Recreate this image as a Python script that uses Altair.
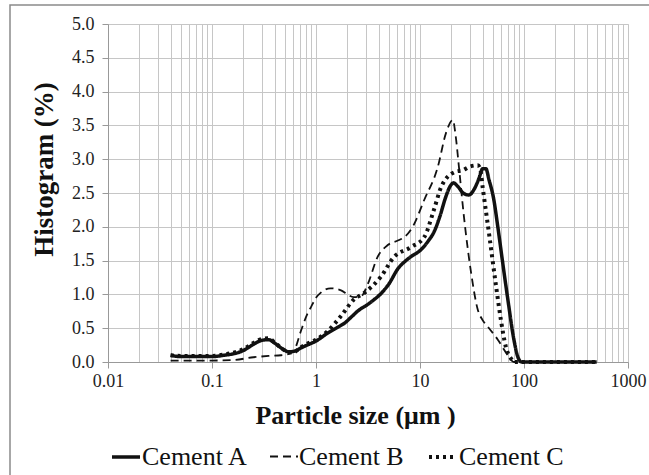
import altair as alt
import pandas as pd

# ---------------- data ----------------
a_size = [0.04, 0.05, 0.07, 0.1, 0.13, 0.17, 0.2, 0.25, 0.3, 0.35, 0.4, 0.47, 0.55, 0.62,
          0.72, 0.85, 1.0, 1.3, 1.6, 1.9, 2.2, 2.6, 3.0, 3.6, 4.2, 5.0, 6.2, 7.2, 8.2,
          10.2, 12, 13.6, 15.5, 17.5, 19.5, 21, 23, 26, 29.5, 33, 37, 40, 43, 46, 51,
          56, 62, 70, 80, 88, 95, 120, 200, 300, 500]
a_hist = [0.10, 0.08, 0.08, 0.08, 0.10, 0.13, 0.17, 0.26, 0.32, 0.33, 0.28, 0.20, 0.15, 0.16,
          0.21, 0.26, 0.31, 0.43, 0.51, 0.58, 0.67, 0.77, 0.83, 0.92, 1.01, 1.15, 1.39, 1.49, 1.56,
          1.66, 1.79, 1.92, 2.15, 2.42, 2.60, 2.65, 2.60, 2.50, 2.47, 2.55, 2.72, 2.86, 2.86, 2.70, 2.42,
          2.00, 1.50, 0.92, 0.33, 0.06, 0.0, 0.0, 0.0, 0.0, 0.0]

b_size = [0.04, 0.08, 0.16, 0.25, 0.35, 0.46, 0.55, 0.62, 0.72, 0.82, 0.9, 1.0, 1.12, 1.38,
          1.74, 2.0, 2.3, 2.7, 3.16, 3.9, 4.9, 6.2, 7.1, 8.5, 11, 14.8, 17.8, 20.7, 22,
          23.7, 26.5, 31, 36, 40, 45, 56, 70, 80, 500]
b_hist = [0.02, 0.02, 0.03, 0.07, 0.09, 0.10, 0.12, 0.18, 0.47, 0.70, 0.82, 0.95, 1.03, 1.09,
          1.06, 1.00, 0.96, 0.97, 1.16, 1.55, 1.73, 1.80, 1.85, 2.00, 2.40, 2.88, 3.39, 3.58, 3.35,
          2.88, 2.14, 1.32, 0.77, 0.62, 0.52, 0.33, 0.10, 0.0, 0.0]

c_size = [0.04, 0.05, 0.07, 0.1, 0.13, 0.17, 0.2, 0.25, 0.3, 0.35, 0.4, 0.47, 0.55, 0.62,
          0.72, 0.85, 1.0, 1.3, 1.74, 2.3, 2.9, 4.2, 5.6, 8.2, 11, 13.6, 16, 21.5, 26,
          30, 36, 38, 40, 46, 54, 60, 67, 75, 80, 500]
c_hist = [0.10, 0.09, 0.09, 0.09, 0.11, 0.15, 0.19, 0.28, 0.34, 0.35, 0.29, 0.20, 0.14, 0.15,
          0.22, 0.28, 0.33, 0.46, 0.68, 0.92, 1.02, 1.26, 1.55, 1.70, 1.85, 2.25, 2.59, 2.81, 2.84,
          2.89, 2.91, 2.85, 2.59, 1.91, 1.11, 0.62, 0.22, 0.05, 0.0, 0.0]

series_names = ["Cement A", "Cement B", "Cement C"]
major_labels = ["0.01", "0.1", "1", "10", "100", "1000"]
y_ticks = [0.0, 0.5, 1.0, 1.5, 2.0, 2.5, 3.0, 3.5, 4.0, 4.5, 5.0]

rows = []
for name, xs, ys in zip(series_names, [a_size, b_size, c_size], [a_hist, b_hist, c_hist]):
    for i, (x, y) in enumerate(zip(xs, ys)):
        rows.append({"series": name, "size": x, "hist": y, "order": i})
df = pd.DataFrame(rows)

# log grid positions (1..9 x each decade)
x_grid = [round(k * 10 ** d, 6) for d in range(-2, 3) for k in range(1, 10)] + [1000.0]

major_test = "indexof([0.01,0.1,1,10,100,1000], datum.value) >= 0"
FONT = "Liberation Serif"
GRID = "#c6c6c6"

lines = alt.Chart(df).mark_line(
    interpolate="monotone", color="#111111", strokeCap="butt", strokeJoin="round"
).encode(
    x=alt.X("size:Q",
            scale=alt.Scale(type="log", domain=[0.01, 1000], nice=False),
            axis=alt.Axis(values=x_grid, format="~g",
                          labelExpr="indexof(" + str(major_labels) + ", datum.label) >= 0 ? datum.label : ''",
                          title="Particle size (\u03bcm )",
                          titleFont=FONT, titleFontSize=26, titleFontWeight="bold", titleColor="#111",
                          titleX=247, titleY=61, titleBaseline="alphabetic", titleAnchor="middle",
                          labelFont=FONT, labelFontSize=18, labelColor="#222", labelPadding=4,
                          labelFlush=False, labelOverlap=False,
                          tickSize=6, tickColor="#999",
                          tickOpacity={"condition": {"test": major_test, "value": 1}, "value": 0},
                          domainColor="#999", gridColor=GRID, gridWidth=1)),
    y=alt.Y("hist:Q",
            scale=alt.Scale(domain=[0, 5], nice=False),
            axis=alt.Axis(values=y_ticks, format=".1f", title="Histogram (%)",
                          titleFont=FONT, titleFontSize=27, titleFontWeight="bold", titleColor="#111",
                          titleX=-56, titleY=145, titleAngle=270, titleBaseline="alphabetic",
                          titleAlign="center",
                          labelFont=FONT, labelFontSize=18, labelColor="#222", labelPadding=8,
                          tickSize=6, tickColor="#999", domainColor="#999",
                          gridColor=GRID, gridWidth=1)),
    strokeDash=alt.StrokeDash("series:N",
                              scale=alt.Scale(domain=series_names, range=[[1, 0], [8, 5], [3, 4]]),
                              legend=alt.Legend(title=None, orient="none", legendX=2, legendY=417,
                                                direction="horizontal", symbolType="stroke",
                                                symbolSize=784, symbolStrokeColor="#111",
                                                labelFont=FONT, labelFontSize=26, labelColor="#111",
                                                labelOffset=0, columnPadding=17, padding=0)),
    strokeWidth=alt.StrokeWidth("series:N",
                                scale=alt.Scale(type="ordinal", domain=series_names, range=[3.5, 1.8, 4]),
                                legend=None),
    order="order:Q",
)

frame = alt.Chart(pd.DataFrame({"f": [0]})).mark_rect(
    fill=None, stroke="#8a8a8a", strokeWidth=1.5, clip=False
).encode(
    x=alt.value(-98), x2=alt.value(560),
    y=alt.value(-19), y2=alt.value(470),
)

chart = alt.layer(frame, lines).properties(
    width=520, height=338,
    autosize=alt.AutoSizeParams(type="none"),
    padding={"left": 108, "top": 24, "right": 21, "bottom": 113},
).configure_view(stroke=None).configure(background="white")

chart.save("out.html", embed_options={"renderer": "svg", "actions": False})
